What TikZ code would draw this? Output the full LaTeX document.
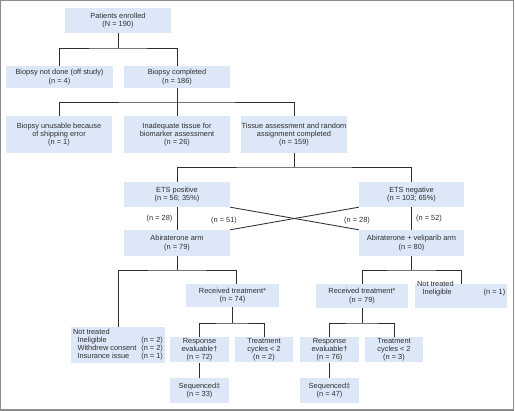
\documentclass[tikz,border=0pt]{standalone}
\usepackage{fontspec}
\setmainfont{Liberation Sans}
\definecolor{boxblue}{HTML}{DCE7F7}
\definecolor{ink}{HTML}{2E2E2E}
\definecolor{framegray}{HTML}{8C8C8C}
\begin{document}
\begin{tikzpicture}[x=1pt,y=-1pt,
  every node/.style={font=\fontsize{7.4}{8.2}\selectfont, text=ink},
  box/.style={fill=boxblue, inner sep=0pt, align=center},
  link/.style={draw=ink, line width=0.85pt},
  lbl/.style={inner sep=0pt}]
\useasboundingbox (0,0) rectangle (515,411);
\draw[framegray, line width=1.4pt] (0.8,0.8) rectangle (513.6,410.2);

% boxes
\node[box, minimum width=106pt, minimum height=25pt] (pat) at (118,20.5) {Patients enrolled\\(N = 190)};
\node[box, minimum width=107pt, minimum height=22pt] (bnd) at (59.5,77) {Biopsy not done (off study)\\(n = 4)};
\node[box, minimum width=106pt, minimum height=22pt] (bc) at (177,77) {Biopsy completed\\(n = 186)};
\node[box, minimum width=106pt, minimum height=37pt] (bu) at (59,134.5) {Biopsy unusable because\\of shipping error\\(n = 1)};
\node[box, minimum width=106pt, minimum height=37pt] (inad) at (177,134.5) {Inadequate tissue for\\biomarker assessment\\(n = 26)};
\node[box, minimum width=106pt, minimum height=37pt] (tis) at (294,134.5) {Tissue assessment and random\\assignment completed\\(n = 159)};
\node[box, minimum width=106pt, minimum height=25pt] (etsp) at (177,194.5) {ETS positive\\(n = 56; 35\%)};
\node[box, minimum width=105pt, minimum height=25pt] (etsn) at (411.5,194.5) {ETS negative\\(n = 103; 65\%)};
\node[box, minimum width=106pt, minimum height=26pt] (abi) at (177,243) {Abiraterone arm\\(n = 79)};
\node[box, minimum width=105pt, minimum height=26pt] (vel) at (411.5,243) {Abiraterone + veliparib arm\\(n = 80)};
\node[box, minimum width=94pt, minimum height=36pt] (ntl) at (118,345) {\begin{tabular}{@{}l@{\hspace{5pt}}l@{}}Not treated&\\\hspace{4.5pt}Ineligible&(n = 2)\\\hspace{4.5pt}Withdrew consent&(n = 2)\\\hspace{4.5pt}Insurance issue&(n = 1)\end{tabular}};
\node[box, minimum width=93pt, minimum height=23pt] (rtl) at (232.5,295.5) {Received treatment*\\(n = 74)};
\node[box, minimum width=92pt, minimum height=24pt] (rtr) at (362,296) {Received treatment*\\(n = 79)};
\node[box, anchor=north west, minimum width=92pt, text height=6.6pt, text depth=17.4pt] (ntr) at (415,284) {\begin{tabular}{@{}l@{\hspace{30pt}}l@{}}Not treated&\\\hspace{5.5pt}Ineligible&(n = 1)\end{tabular}};
\node[box, minimum width=59pt, minimum height=25pt] (rel) at (199.5,350) {Response\\evaluable†\\(n = 72)};
\node[box, minimum width=58pt, minimum height=25pt] (tcl) at (264,350) {Treatment\\cycles < 2\\(n = 2)};
\node[box, minimum width=59pt, minimum height=25pt] (sql) at (199.5,390.5) {Sequenced‡\\(n = 33)};
\node[box, minimum width=59pt, minimum height=25pt] (rer) at (329.5,350) {Response\\evaluable†\\(n = 76)};
\node[box, minimum width=58pt, minimum height=25pt] (tcr) at (394,350) {Treatment\\cycles < 2\\(n = 3)};
\node[box, minimum width=59pt, minimum height=25pt] (sqr) at (329.5,390.5) {Sequenced‡\\(n = 47)};

% labels
\node[lbl] (l1) at (159.5,219) {(n = 28)};
\node[lbl] (l2) at (224,221) {(n = 51)};
\node[lbl] (l3) at (357,221) {(n = 28)};
\node[lbl] (l4) at (429,219) {(n = 52)};

% connectors
\coordinate (j1) at (118,48);
\draw[link] (pat.south) -- (j1);
\draw[link] (bnd.north) |- (j1) -| (bc.north);
\coordinate (j2) at (177,102);
\draw[link] (bc.south) -- (j2);
\draw[link] (bu.north) |- (j2) -| (tis.north);
\draw[link] (j2) -- (inad.north);
\coordinate (j3) at (294,167);
\draw[link] (tis.south) -- (j3);
\draw[link] (etsp.north) |- (j3) -| (etsn.north);
\draw[link] (etsp.south) -- (abi.north);
\draw[link] (etsn.south) -- (vel.north);
\draw[link] (etsp.south east) -- (vel.north west);
\draw[link] (etsn.south west) -- (abi.north east);
\coordinate (j4) at (177,270);
\draw[link] (abi.south) -- (j4);
\draw[link] (ntl.north) |- (j4) -| ([xshift=3.5pt]rtl.north);
\coordinate (j5) at (232.5,323);
\draw[link] (rtl.south) -- (j5);
\draw[link] (rel.north) |- (j5) -| (tcl.north);
\draw[link] (rel.south) -- (sql.north);
\coordinate (j6) at (411.5,270);
\draw[link] (vel.south) -- (j6);
\draw[link] (rtr.north) |- (j6) -| (ntr.north);
\coordinate (j7) at (362,323);
\draw[link] (rtr.south) -- (j7);
\draw[link] (rer.north) |- (j7) -| (tcr.north);
\draw[link] (rer.south) -- (sqr.north);
\end{tikzpicture}
\end{document}
